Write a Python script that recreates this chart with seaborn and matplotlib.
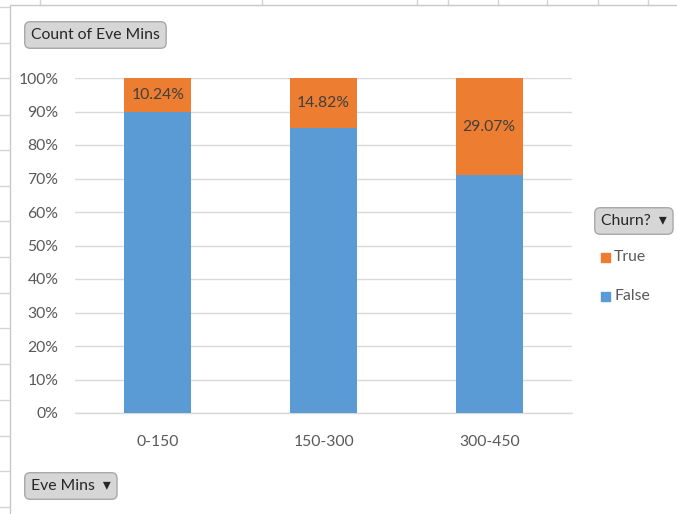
import matplotlib
matplotlib.use("Agg")
import matplotlib.pyplot as plt
import pandas as pd
import seaborn as sns
from matplotlib.lines import Line2D
from matplotlib.patches import Rectangle

categories = ["0-150", "150-300", "300-450"]
true_pct = [10.24, 14.82, 29.07]
false_pct = [89.76, 85.18, 70.93]
y_ticks = [0, 10, 20, 30, 40, 50, 60, 70, 80, 90, 100]

BLUE = "#5B9BD5"
ORANGE = "#ED7D31"
TEXT = "#595959"
GRID = "#D9D9D9"
FONT = ["Lato", "DejaVu Sans"]
FS = 11.3

sns.set_theme(style="white")
plt.rcParams["font.family"] = FONT

df = pd.DataFrame({"bin": categories, "true": true_pct, "false": false_pct})
df["total"] = df["true"] + df["false"]

fig = plt.figure(figsize=(6.77, 5.14), dpi=100)
W, H = 677, 514

# spreadsheet grid peeking around the chart area
for y in [7, 43, 78, 115, 150, 186, 221, 257, 293, 328, 364, 400, 436, 471, 507]:
    fig.add_artist(Line2D([0, 9 / W], [1 - y / H] * 2, color="#D4D4D4", lw=1))
for x in [40, 262, 417, 448, 498, 547, 598, 648]:
    fig.add_artist(Line2D([x / W] * 2, [1, 1 - 5 / H], color="#D4D4D4", lw=1))
fig.add_artist(Line2D([10 / W] * 2, [0, 1 - 5 / H], color="#C8C8C8", lw=1))
fig.add_artist(Line2D([10 / W, 1], [1 - 5 / H] * 2, color="#C8C8C8", lw=1))

ax = fig.add_axes([75 / W, 1 - 413 / H, 497 / W, (413 - 78) / H])

sns.barplot(data=df, x="bin", y="total", color=ORANGE, width=0.405,
            saturation=1, linewidth=0, ax=ax)
sns.barplot(data=df, x="bin", y="false", color=BLUE, width=0.405,
            saturation=1, linewidth=0, ax=ax)

for i, row in df.iterrows():
    ax.text(i, row["false"] + row["true"] / 2, f"{row['true']:.2f}%",
            ha="center", va="center", fontsize=FS, color="#404040")

ax.set_ylim(0, 100)
ax.set_yticks(y_ticks)
ax.set_yticklabels([f"{t}%" for t in y_ticks])
ax.yaxis.grid(True, color=GRID, lw=1)
ax.axhline(0, color=GRID, lw=1, clip_on=False, zorder=0)
ax.set_axisbelow(True)
for s in ax.spines.values():
    s.set_visible(False)
ax.set_xlabel("")
ax.set_ylabel("")
ax.tick_params(axis="y", length=0, pad=12, labelsize=FS, labelcolor=TEXT)
ax.tick_params(axis="x", length=0, pad=16, labelsize=FS, labelcolor=TEXT)

btn = dict(boxstyle="round,pad=0.4,rounding_size=0.35", fc="#D6D6D6",
           ec="#A8A8A8", lw=1)
fig.text(31 / W, 1 - 35 / H, "Count of Eve Mins", fontsize=FS,
         color="#262626", va="center", ha="left", bbox=btn)
fig.text(31 / W, 1 - 486 / H, "Eve Mins  \u25BE", fontsize=FS,
         color="#262626", va="center", ha="left", bbox=btn)
fig.text(601 / W, 1 - 221 / H, "Churn?  \u25BE", fontsize=FS,
         color="#262626", va="center", ha="left", bbox=btn)

for label, col, y in [("True", ORANGE, 257), ("False", BLUE, 296)]:
    fig.add_artist(Rectangle((601 / W, 1 - (y + 5) / H), 9 / W, 9 / H,
                             color=col, transform=fig.transFigure))
    fig.text(614 / W, 1 - y / H, label, fontsize=FS, color=TEXT,
             va="center", ha="left")

fig.savefig("out.png", dpi=100)
